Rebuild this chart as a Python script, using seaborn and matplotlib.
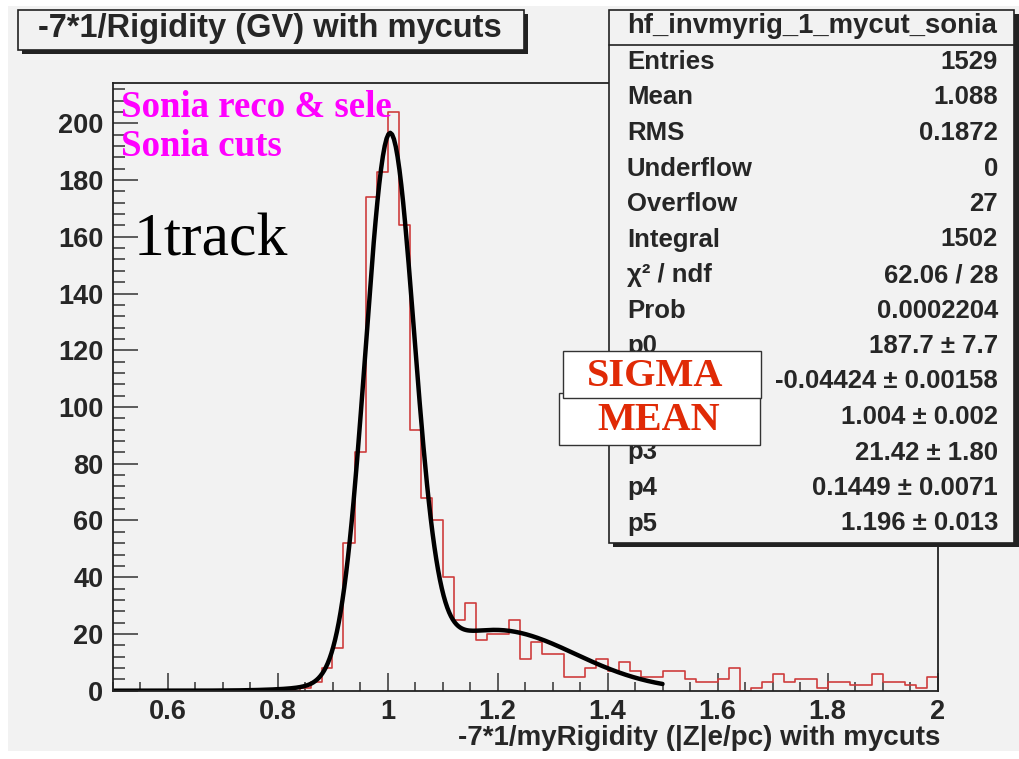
import numpy as np
import pandas as pd
import matplotlib
matplotlib.use("Agg")
import matplotlib.pyplot as plt
from matplotlib.patches import Rectangle
from matplotlib.ticker import FixedLocator, MultipleLocator, FuncFormatter
import seaborn as sns

# ---------------- data ----------------
# 75 bins of width 0.02 between 0.5 and 2.0
bin_lo = 0.5
bin_hi = 2.0
n_bins = 75
bin_counts = [
    0, 0, 0, 0, 0, 0, 0, 0, 0, 0,
    0, 0, 0, 0, 0, 0, 0, 1, 3, 8,
    15, 52, 84, 174, 183, 204, 164, 92, 68, 60,
    40, 25, 31, 18, 20, 20, 25, 11, 17, 13,
    13, 5, 5, 8, 11, 7, 10, 7, 5, 5,
    7, 7, 4, 3, 3, 4, 8, 0, 1, 3,
    6, 3, 4, 4, 1, 3, 3, 2, 2, 6,
    3, 3, 2, 1, 5,
]

# double-gaussian fit: p0..p2 core peak (amplitude, sigma, mean), p3..p5 second bump
fit_params = [187.7, -0.04424, 1.004, 21.42, 0.1449, 1.196]
fit_errors = ["7.7", "0.00158", "0.002", "1.80", "0.0071", "0.013"]
fit_range = (0.5, 1.5)

hist_name = "hf_invmyrig_1_mycut_sonia"
stat_labels = ["Entries", "Mean", "RMS", "Underflow", "Overflow", "Integral",
               "χ² / ndf", "Prob"]
stat_values = ["1529", "1.088", "0.1872", "0", "27", "1502", "62.06 / 28", "0.0002204"]

x_tick_values = [0.6, 0.8, 1.0, 1.2, 1.4, 1.6, 1.8, 2.0]
y_tick_values = [0, 20, 40, 60, 80, 100, 120, 140, 160, 180, 200]

title_text = "-7*1/Rigidity (GV) with mycuts"
xlabel_text = "-7*1/myRigidity (|Z|e/pc) with mycuts"

# ---------------- figure ----------------
W, H = 1019, 759
sns.set_style("ticks")
plt.rcParams["font.family"] = ["Liberation Sans", "DejaVu Sans"]

fig = plt.figure(figsize=(W / 100, H / 100), dpi=100, facecolor="white")


def fx(x):
    return x / W


def fy(y):
    return 1 - y / H


def box(x0, y0, x1, y1, face, edge="black", lw=1.0, z=5):
    r = Rectangle((fx(x0), fy(y1)), (x1 - x0) / W, (y1 - y0) / H,
                  transform=fig.transFigure, facecolor=face, edgecolor=edge,
                  linewidth=lw, zorder=z)
    fig.add_artist(r)
    return r


canvas_grey = "#f2f2f2"
box(8, 6, 1019, 751, canvas_grey, edge="none", lw=0, z=-10)

ax_left, ax_right, ax_top, ax_bottom = 112.5, 937.5, 83, 690.7
ax = fig.add_axes([fx(ax_left), fy(ax_bottom), (ax_right - ax_left) / W,
                   (ax_bottom - ax_top) / H])
ax.set_facecolor(canvas_grey)

edges = np.linspace(bin_lo, bin_hi, n_bins + 1)
centers = 0.5 * (edges[:-1] + edges[1:])
hist_df = pd.DataFrame({"x": centers, "w": bin_counts})
sns.histplot(data=hist_df, x="x", weights="w", bins=n_bins,
             binrange=(bin_lo, bin_hi), element="step",
             fill=False, color="#cf3d3d", linewidth=1.2, ax=ax)

p0, p1, p2, p3, p4, p5 = fit_params
fx_vals = np.linspace(fit_range[0], fit_range[1], 300)
fy_vals = (p0 * np.exp(-0.5 * ((fx_vals - p2) / p1) ** 2)
           + p3 * np.exp(-0.5 * ((fx_vals - p5) / p4) ** 2))
fit_df = pd.DataFrame({"x": fx_vals, "y": fy_vals})
sns.lineplot(data=fit_df, x="x", y="y", color="black", linewidth=3.2,
             sort=False, estimator=None, ax=ax)

ymax = 1.05 * max(bin_counts)
ax.set_xlim(bin_lo, bin_hi)
ax.set_ylim(0, ymax)

ax.xaxis.set_major_locator(FixedLocator(x_tick_values))
ax.xaxis.set_minor_locator(MultipleLocator(0.05))
ax.yaxis.set_major_locator(FixedLocator(y_tick_values))
ax.yaxis.set_minor_locator(MultipleLocator(4))
ax.xaxis.set_major_formatter(FuncFormatter(lambda v, p: f"{v:g}"))
ax.yaxis.set_major_formatter(FuncFormatter(lambda v, p: f"{v:g}"))

tick_col = "#333333"
ax.tick_params(axis="y", which="major", direction="in", length=17.8, width=1.1,
               color=tick_col, pad=6.5, labelsize=19.5)
ax.tick_params(axis="y", which="minor", direction="in", length=8.9, width=1.1,
               color=tick_col)
ax.tick_params(axis="x", which="major", direction="in", length=13.1, width=1.1,
               color=tick_col, pad=6.0, labelsize=19.5)
ax.tick_params(axis="x", which="minor", direction="in", length=6.6, width=1.1,
               color=tick_col)
ax.tick_params(top=False, right=False, which="both")
for lbl in ax.get_xticklabels() + ax.get_yticklabels():
    lbl.set_fontweight("bold")
for sp in ax.spines.values():
    sp.set_visible(True)
    sp.set_color("#222222")
    sp.set_linewidth(1.3)

ax.set_ylabel("")
ax.set_xlabel(xlabel_text, fontsize=20, fontweight="bold", loc="right")
ax.xaxis.set_label_coords(1.003, -0.056)
ax.xaxis.label.set_va("top")
ax.xaxis.label.set_ha("right")

# ---------------- title box ----------------
box(22, 14, 528, 54, "#222222", edge="none", lw=0, z=4)
box(18, 10, 524, 50, canvas_grey, edge="#222222", lw=1.2, z=5)
fig.text(fx(270), fy(29), title_text, ha="center", va="center",
         fontsize=23.5, fontweight="bold", zorder=6)

# ---------------- statistics box ----------------
box(613, 14, 1023, 547, "#222222", edge="none", lw=0, z=4)
box(609, 10, 1014, 543, canvas_grey, edge="#222222", lw=1.2, z=5)
fig.add_artist(plt.Line2D([fx(609), fx(1014)], [fy(45), fy(45)],
                          transform=fig.transFigure, color="#222222",
                          linewidth=1.2, zorder=6))
fig.text(fx(812), fy(26), hist_name, ha="center", va="center",
         fontsize=19.8, fontweight="bold", zorder=6)

rows_l = list(stat_labels) + [f"p{i}" for i in range(len(fit_params))]
rows_v = list(stat_values) + [f"{v:g} ± {e}" for v, e in zip(fit_params, fit_errors)]
for i, (l, v) in enumerate(zip(rows_l, rows_v)):
    yc = 62 + 35.5 * i
    fig.text(fx(627), fy(yc), l, ha="left", va="center", fontsize=18.5,
             fontweight="bold", zorder=6)
    fig.text(fx(998), fy(yc), v, ha="right", va="center", fontsize=18.5,
             fontweight="bold", zorder=6)

# ---------------- annotations ----------------
serif = ["Liberation Serif", "DejaVu Serif"]
fig.text(fx(121), fy(117), "Sonia reco & sele", ha="left", va="baseline",
         fontsize=26.6, fontweight="bold", color="#ff00ff", family=serif, zorder=7)
fig.text(fx(121), fy(156), "Sonia cuts", ha="left", va="baseline",
         fontsize=26.6, fontweight="bold", color="#ff00ff", family=serif, zorder=7)
fig.text(fx(134), fy(255), "1track", ha="left", va="baseline",
         fontsize=44.5, color="black", family=serif, zorder=7)

red = "#e02a06"
box(559.3, 392.7, 760, 444.7, "white", edge="#333333", lw=1.0, z=8)
box(562.7, 350.7, 760.7, 398.3, "white", edge="#333333", lw=1.0, z=9)
fig.text(fx(655.5), fy(386), "SIGMA", ha="center", va="baseline", fontsize=29,
         fontweight="bold", color=red, family=serif, zorder=10)
fig.text(fx(658.3), fy(430), "MEAN", ha="center", va="baseline", fontsize=29,
         fontweight="bold", color=red, family=serif, zorder=10)

fig.savefig("out.png", dpi=100, facecolor=fig.get_facecolor())
